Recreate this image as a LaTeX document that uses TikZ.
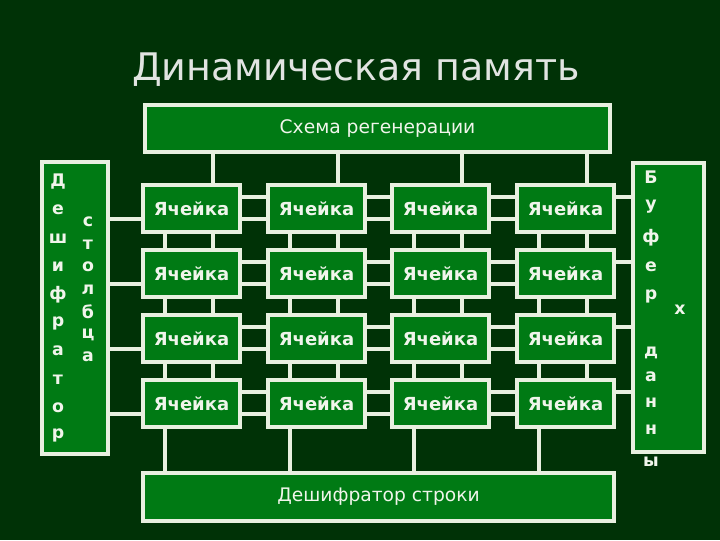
\documentclass[tikz,border=0pt]{standalone}
\usepackage{fontspec}
\setmainfont{DejaVu Sans}
\begin{document}
\begin{tikzpicture}[x=0.75pt,y=-0.75pt,
  bg/.style={fill={rgb,255:red,0;green,50;blue,6}},
  box/.style={draw={rgb,255:red,232;green,240;blue,224},line width=2.4pt,fill={rgb,255:red,0;green,122;blue,20},inner sep=0pt,text={rgb,255:red,240;green,245;blue,235},font=\fontsize{14}{16}\selectfont},
  cellbox/.style={box,font=\fontsize{13.5}{16}\selectfont\bfseries},
  wire/.style={draw={rgb,255:red,232;green,240;blue,224},line width=2.4pt},
  lt/.style={text={rgb,255:red,240;green,245;blue,235},font=\fontsize{13}{14}\selectfont\bfseries,inner sep=0pt}]
\useasboundingbox[bg] (0,0) rectangle (720,540);
\node[text={rgb,255:red,225;green,228;blue,225},font=\fontsize{28.5}{30}\selectfont] (title) at (356,70) {Динамическая память};
% wires (drawn first, boxes cover them)
\foreach \c/\x in {1/143,2/268,3/392,4/517}{
  \draw[wire] (\x+70,152) -- (\x+70,404);
  \draw[wire] (\x+22,208) -- (\x+22,473);
}
\foreach \r/\y in {1/185,2/250,3/315,4/380}{
  \draw[wire] (191,\y+12) -- (633,\y+12);
  \draw[wire] (108,\y+34) -- (565,\y+34);
}
\node[box,minimum width=465*0.75pt,minimum height=47*0.75pt] (top) at (377.5,128.5) {Схема регенерации};
\node[box,minimum width=471*0.75pt,minimum height=48*0.75pt] (bot) at (378.5,497) {Дешифратор строки};
\node[box,minimum width=66*0.75pt,minimum height=292*0.75pt] (left) at (75,308) {};
\node[box,minimum width=71*0.75pt,minimum height=289*0.75pt] (right) at (668.5,307.5) {};
\foreach \r/\y in {1/185,2/250,3/315,4/380}{
  \foreach \c/\x in {1/143,2/268,3/392,4/517}{
    \node[cellbox,minimum width=97*0.75pt,minimum height=47*0.75pt] (c\r\c) at (\x+48.5,\y+23.5) {Ячейка};
  }
}
\foreach \t [count=\i] in {Д,е,ш,и,ф,р,а,т,о,р}{
  \node[lt] (dl\i) at (58,182+28.2*\i-28.2) {\t};
}
\foreach \t [count=\i] in {с,т,о,л,б,ц,а}{
  \node[lt] (sl\i) at (88,222+22.5*\i-22.5) {\t};
}
\foreach \t/\y [count=\i] in {Б/177,у/207,ф/238,е/267,р/296,д/353,а/377,н/403,н/430,ы/462}{
  \node[lt] (bl\i) at (651,\y) {\t};
}
\node[lt] (bx) at (680,310) {х};
\end{tikzpicture}
\end{document}
